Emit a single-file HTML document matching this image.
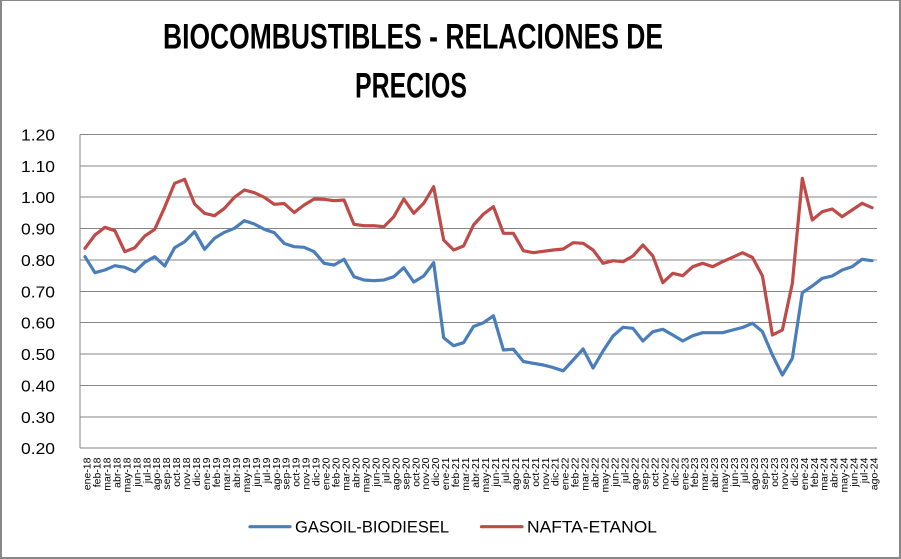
<!DOCTYPE html>
<html>
<head>
<meta charset="utf-8">
<style>
html,body{margin:0;padding:0;background:#fff;}
body{width:901px;height:559px;overflow:hidden;}
svg{display:block;}
text{font-family:"Liberation Sans",Arial,sans-serif;fill:#000;}
</style>
</head>
<body>
<svg width="901" height="559" viewBox="0 0 901 559" xmlns="http://www.w3.org/2000/svg">
  <rect x="0" y="0" width="901" height="559" fill="#fff"/>
  <!-- outer border -->
  <rect x="0" y="0" width="901" height="1" fill="#888"/>
  <rect x="0" y="0" width="2" height="559" fill="#888"/>
  <rect x="899" y="0" width="2" height="559" fill="#888"/>
  <rect x="0" y="557" width="901" height="2" fill="#888"/>

  <!-- title -->
  <text x="413" y="48.3" font-size="35" font-weight="bold" text-anchor="middle" textLength="500" lengthAdjust="spacingAndGlyphs">BIOCOMBUSTIBLES - RELACIONES DE</text>
  <text x="411" y="97.3" font-size="35" font-weight="bold" text-anchor="middle" textLength="112" lengthAdjust="spacingAndGlyphs">PRECIOS</text>

  <!-- gridlines -->
  <g stroke="#868686" stroke-width="1" shape-rendering="crispEdges">
    <line x1="80" y1="134.5" x2="877" y2="134.5"/>
    <line x1="80" y1="165.9" x2="877" y2="165.9"/>
    <line x1="80" y1="197.2" x2="877" y2="197.2"/>
    <line x1="80" y1="228.6" x2="877" y2="228.6"/>
    <line x1="80" y1="260.0" x2="877" y2="260.0"/>
    <line x1="80" y1="291.4" x2="877" y2="291.4"/>
    <line x1="80" y1="322.7" x2="877" y2="322.7"/>
    <line x1="80" y1="354.1" x2="877" y2="354.1"/>
    <line x1="80" y1="385.5" x2="877" y2="385.5"/>
    <line x1="80" y1="416.8" x2="877" y2="416.8"/>
    <line x1="80" y1="448.2" x2="877" y2="448.2"/>
    <line x1="80" y1="134.5" x2="80" y2="448.2"/>
  </g>

  <!-- y labels -->
  <g font-size="16" text-anchor="end">
    <text x="55" y="140.5" textLength="34" lengthAdjust="spacingAndGlyphs">1.20</text>
    <text x="55" y="171.9" textLength="34" lengthAdjust="spacingAndGlyphs">1.10</text>
    <text x="55" y="203.2" textLength="34" lengthAdjust="spacingAndGlyphs">1.00</text>
    <text x="55" y="234.6" textLength="34" lengthAdjust="spacingAndGlyphs">0.90</text>
    <text x="55" y="266.0" textLength="34" lengthAdjust="spacingAndGlyphs">0.80</text>
    <text x="55" y="297.4" textLength="34" lengthAdjust="spacingAndGlyphs">0.70</text>
    <text x="55" y="328.7" textLength="34" lengthAdjust="spacingAndGlyphs">0.60</text>
    <text x="55" y="360.1" textLength="34" lengthAdjust="spacingAndGlyphs">0.50</text>
    <text x="55" y="391.5" textLength="34" lengthAdjust="spacingAndGlyphs">0.40</text>
    <text x="55" y="422.8" textLength="34" lengthAdjust="spacingAndGlyphs">0.30</text>
    <text x="55" y="454.2" textLength="34" lengthAdjust="spacingAndGlyphs">0.20</text>
  </g>

  <!-- x labels -->
  <g font-size="10.5" text-anchor="end">
    <text transform="translate(90.5,457.5) rotate(-90)">ene-18</text>
    <text transform="translate(100.4,457.5) rotate(-90)">feb-18</text>
    <text transform="translate(110.4,457.5) rotate(-90)">mar-18</text>
    <text transform="translate(120.4,457.5) rotate(-90)">abr-18</text>
    <text transform="translate(130.3,457.5) rotate(-90)">may-18</text>
    <text transform="translate(140.3,457.5) rotate(-90)">jun-18</text>
    <text transform="translate(150.3,457.5) rotate(-90)">jul-18</text>
    <text transform="translate(160.2,457.5) rotate(-90)">ago-18</text>
    <text transform="translate(170.2,457.5) rotate(-90)">sep-18</text>
    <text transform="translate(180.2,457.5) rotate(-90)">oct-18</text>
    <text transform="translate(190.1,457.5) rotate(-90)">nov-18</text>
    <text transform="translate(200.1,457.5) rotate(-90)">dic-18</text>
    <text transform="translate(210.0,457.5) rotate(-90)">ene-19</text>
    <text transform="translate(220.0,457.5) rotate(-90)">feb-19</text>
    <text transform="translate(230.0,457.5) rotate(-90)">mar-19</text>
    <text transform="translate(239.9,457.5) rotate(-90)">abr-19</text>
    <text transform="translate(249.9,457.5) rotate(-90)">may-19</text>
    <text transform="translate(259.9,457.5) rotate(-90)">jun-19</text>
    <text transform="translate(269.8,457.5) rotate(-90)">jul-19</text>
    <text transform="translate(279.8,457.5) rotate(-90)">ago-19</text>
    <text transform="translate(289.7,457.5) rotate(-90)">sep-19</text>
    <text transform="translate(299.7,457.5) rotate(-90)">oct-19</text>
    <text transform="translate(309.7,457.5) rotate(-90)">nov-19</text>
    <text transform="translate(319.6,457.5) rotate(-90)">dic-19</text>
    <text transform="translate(329.6,457.5) rotate(-90)">ene-20</text>
    <text transform="translate(339.6,457.5) rotate(-90)">feb-20</text>
    <text transform="translate(349.5,457.5) rotate(-90)">mar-20</text>
    <text transform="translate(359.5,457.5) rotate(-90)">abr-20</text>
    <text transform="translate(369.4,457.5) rotate(-90)">may-20</text>
    <text transform="translate(379.4,457.5) rotate(-90)">jun-20</text>
    <text transform="translate(389.4,457.5) rotate(-90)">jul-20</text>
    <text transform="translate(399.3,457.5) rotate(-90)">ago-20</text>
    <text transform="translate(409.3,457.5) rotate(-90)">sep-20</text>
    <text transform="translate(419.3,457.5) rotate(-90)">oct-20</text>
    <text transform="translate(429.2,457.5) rotate(-90)">nov-20</text>
    <text transform="translate(439.2,457.5) rotate(-90)">dic-20</text>
    <text transform="translate(449.1,457.5) rotate(-90)">ene-21</text>
    <text transform="translate(459.1,457.5) rotate(-90)">feb-21</text>
    <text transform="translate(469.1,457.5) rotate(-90)">mar-21</text>
    <text transform="translate(479.0,457.5) rotate(-90)">abr-21</text>
    <text transform="translate(489.0,457.5) rotate(-90)">may-21</text>
    <text transform="translate(499.0,457.5) rotate(-90)">jun-21</text>
    <text transform="translate(508.9,457.5) rotate(-90)">jul-21</text>
    <text transform="translate(518.9,457.5) rotate(-90)">ago-21</text>
    <text transform="translate(528.8,457.5) rotate(-90)">sep-21</text>
    <text transform="translate(538.8,457.5) rotate(-90)">oct-21</text>
    <text transform="translate(548.8,457.5) rotate(-90)">nov-21</text>
    <text transform="translate(558.7,457.5) rotate(-90)">dic-21</text>
    <text transform="translate(568.7,457.5) rotate(-90)">ene-22</text>
    <text transform="translate(578.7,457.5) rotate(-90)">feb-22</text>
    <text transform="translate(588.6,457.5) rotate(-90)">mar-22</text>
    <text transform="translate(598.6,457.5) rotate(-90)">abr-22</text>
    <text transform="translate(608.6,457.5) rotate(-90)">may-22</text>
    <text transform="translate(618.5,457.5) rotate(-90)">jun-22</text>
    <text transform="translate(628.5,457.5) rotate(-90)">jul-22</text>
    <text transform="translate(638.4,457.5) rotate(-90)">ago-22</text>
    <text transform="translate(648.4,457.5) rotate(-90)">sep-22</text>
    <text transform="translate(658.4,457.5) rotate(-90)">oct-22</text>
    <text transform="translate(668.3,457.5) rotate(-90)">nov-22</text>
    <text transform="translate(678.3,457.5) rotate(-90)">dic-22</text>
    <text transform="translate(688.3,457.5) rotate(-90)">ene-23</text>
    <text transform="translate(698.2,457.5) rotate(-90)">feb-23</text>
    <text transform="translate(708.2,457.5) rotate(-90)">mar-23</text>
    <text transform="translate(718.1,457.5) rotate(-90)">abr-23</text>
    <text transform="translate(728.1,457.5) rotate(-90)">may-23</text>
    <text transform="translate(738.1,457.5) rotate(-90)">jun-23</text>
    <text transform="translate(748.0,457.5) rotate(-90)">jul-23</text>
    <text transform="translate(758.0,457.5) rotate(-90)">ago-23</text>
    <text transform="translate(768.0,457.5) rotate(-90)">sep-23</text>
    <text transform="translate(777.9,457.5) rotate(-90)">oct-23</text>
    <text transform="translate(787.9,457.5) rotate(-90)">nov-23</text>
    <text transform="translate(797.9,457.5) rotate(-90)">dic-23</text>
    <text transform="translate(807.8,457.5) rotate(-90)">ene-24</text>
    <text transform="translate(817.8,457.5) rotate(-90)">feb-24</text>
    <text transform="translate(827.7,457.5) rotate(-90)">mar-24</text>
    <text transform="translate(837.7,457.5) rotate(-90)">abr-24</text>
    <text transform="translate(847.7,457.5) rotate(-90)">may-24</text>
    <text transform="translate(857.6,457.5) rotate(-90)">jun-24</text>
    <text transform="translate(867.6,457.5) rotate(-90)">jul-24</text>
    <text transform="translate(877.6,457.5) rotate(-90)">ago-24</text>
  </g>

  <!-- NAFTA-ETANOL -->
  <polyline fill="none" stroke="#BE4B48" stroke-width="3.2" stroke-linejoin="round" stroke-linecap="round"
    points="84.98,248.3 94.94,235 104.91,227.3 114.87,230.7 124.83,251.7 134.80,247.7 144.76,236 154.72,229.3 164.68,207.3 174.65,183.3 184.61,179.3 194.57,204 204.54,213.3 214.50,215.7 224.46,208.3 234.42,197.3 244.39,190 254.35,192.7 264.31,197.3 274.28,204.3 284.24,203.5 294.20,212.5 304.16,205 314.13,199 324.09,199.3 334.05,200.7 344.02,200 353.98,224.3 363.94,225.7 373.91,225.7 383.87,226.7 393.83,216.7 403.79,199 413.76,213.3 423.72,203.3 433.68,186.7 443.65,240 453.61,250 463.57,246 473.53,225 483.50,214 493.46,206.7 503.42,233.3 513.39,233.3 523.35,250.7 533.31,252.7 543.27,251.3 553.24,250 563.20,249 573.16,242.7 583.13,243.3 593.09,250 603.05,263.3 613.02,260.7 622.98,261.7 632.94,256 642.90,245 652.87,256 662.83,282.7 672.79,273.3 682.76,275.7 692.72,266.7 702.68,263.3 712.64,266.7 722.61,261.7 732.57,257.3 742.53,252.7 752.50,257.5 762.46,276 772.42,335 782.38,330 792.35,283.3 802.31,178.3 812.27,220 822.24,211.7 832.20,209 842.16,216.7 852.13,210 862.09,203.3 872.05,207.7"/>

  <!-- GASOIL-BIODIESEL -->
  <polyline fill="none" stroke="#4A7EBB" stroke-width="3.2" stroke-linejoin="round" stroke-linecap="round"
    points="84.98,256.7 94.94,272.7 104.91,270 114.87,265.7 124.83,267.3 134.80,271.7 144.76,262.3 154.72,256.7 164.68,266 174.65,247.7 184.61,241.7 194.57,231.7 204.54,249.3 214.50,238.3 224.46,232.3 234.42,228.3 244.39,220.7 254.35,224 264.31,229.3 274.28,232.7 284.24,243.5 294.20,246.7 304.16,247.3 314.13,251.7 324.09,263.3 334.05,265 344.02,259.3 353.98,276.7 363.94,280 373.91,280.7 383.87,280 393.83,276.7 403.79,267.7 413.76,282 423.72,276 433.68,262.7 443.65,337.7 453.61,345.7 463.57,342.7 473.53,326.5 483.50,322.7 493.46,315.8 503.42,350 513.39,349.2 523.35,361.5 533.31,363.3 543.27,365 553.24,367.6 563.20,370.8 573.16,360 583.13,349 593.09,368 603.05,351 613.02,336 622.98,327.3 632.94,328.3 642.90,341 652.87,331.7 662.83,329.3 672.79,335 682.76,341 692.72,335.7 702.68,332.7 712.64,332.7 722.61,332.7 732.57,330 742.53,327.5 752.50,323.3 762.46,331.7 772.42,355 782.38,375 792.35,358.3 802.31,292.7 812.27,286 822.24,278.3 832.20,276 842.16,270 852.13,266.7 862.09,259.3 872.05,260.7"/>

  <!-- legend -->
  <line x1="250" y1="526.7" x2="290" y2="526.7" stroke="#4A7EBB" stroke-width="3.2" stroke-linecap="round"/>
  <text x="295" y="532.6" font-size="16.6" textLength="154" lengthAdjust="spacingAndGlyphs">GASOIL-BIODIESEL</text>
  <line x1="481.5" y1="526.7" x2="522" y2="526.7" stroke="#BE4B48" stroke-width="3.2" stroke-linecap="round"/>
  <text x="527" y="532.6" font-size="16.6" textLength="130" lengthAdjust="spacingAndGlyphs">NAFTA-ETANOL</text>
</svg>
</body>
</html>
